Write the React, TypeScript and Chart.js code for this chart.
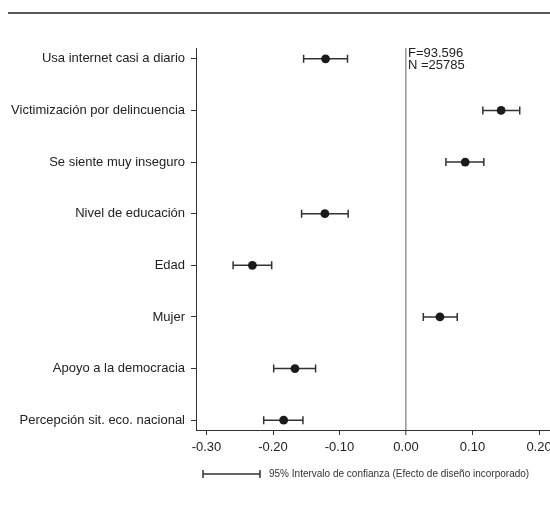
import React, { useEffect, useRef } from "react";
import { Chart, registerables } from "chart.js";

Chart.register(...registerables);

const labels = [
  "Usa internet casi a diario",
  "Victimización por delincuencia",
  "Se siente muy inseguro",
  "Nivel de educación",
  "Edad",
  "Mujer",
  "Apoyo a la democracia",
  "Percepción sit. eco. nacional",
];
const estimates = [-0.121, 0.143, 0.089, -0.122, -0.231, 0.051, -0.167, -0.184];
const lower = [-0.154, 0.1155, 0.06, -0.157, -0.26, 0.026, -0.199, -0.214];
const upper = [-0.088, 0.171, 0.117, -0.087, -0.202, 0.077, -0.136, -0.155];
const xTicks = [-0.3, -0.2, -0.1, 0, 0.1, 0.2];
const statLines = ["F=93.596", "N =25785"];
const legendText = "95% Intervalo de confianza (Efecto de diseño incorporado)";

const FONT = "'Liberation Sans', Arial, Helvetica, sans-serif";

const decorPlugin = {
  id: "decor",
  beforeDatasetsDraw(chart: any) {
    const { ctx, scales } = chart;
    const xs = scales.x;
    const ys = scales.y;
    ctx.save();
    ctx.strokeStyle = "#333";
    ctx.lineWidth = 1.5;
    for (let i = 0; i < estimates.length; i++) {
      const y = ys.getPixelForValue(i);
      const x1 = xs.getPixelForValue(lower[i]);
      const x2 = xs.getPixelForValue(upper[i]);
      ctx.beginPath();
      ctx.moveTo(x1, y);
      ctx.lineTo(x2, y);
      ctx.moveTo(x1, y - 4);
      ctx.lineTo(x1, y + 4);
      ctx.moveTo(x2, y - 4);
      ctx.lineTo(x2, y + 4);
      ctx.stroke();
    }
    ctx.restore();
  },
  afterDraw(chart: any) {
    const { ctx, scales, chartArea, width } = chart;
    const xs = scales.x;
    ctx.save();
    ctx.strokeStyle = "#222";
    ctx.lineWidth = 1.6;
    ctx.beginPath();
    ctx.moveTo(0, 5);
    ctx.lineTo(width, 5);
    ctx.stroke();
    const x0 = xs.getPixelForValue(0);
    ctx.fillStyle = "#222";
    ctx.font = `13px ${FONT}`;
    ctx.textAlign = "left";
    ctx.textBaseline = "alphabetic";
    statLines.forEach((t, i) => ctx.fillText(t, x0 + 2, chartArea.top + 9 + i * 12));
    const ly = chartArea.bottom + 44;
    const lx1 = chartArea.left + 7;
    const lx2 = lx1 + 57;
    ctx.strokeStyle = "#333";
    ctx.lineWidth = 1.5;
    ctx.beginPath();
    ctx.moveTo(lx1, ly);
    ctx.lineTo(lx2, ly);
    ctx.moveTo(lx1, ly - 4);
    ctx.lineTo(lx1, ly + 4);
    ctx.moveTo(lx2, ly - 4);
    ctx.lineTo(lx2, ly + 4);
    ctx.stroke();
    ctx.font = `10px ${FONT}`;
    ctx.fillStyle = "#333";
    ctx.textBaseline = "middle";
    ctx.fillText(legendText, lx2 + 9, ly);
    ctx.restore();
  },
};

export default function App() {
  const ref = useRef<HTMLCanvasElement>(null);
  useEffect(() => {
    const chart = new Chart(ref.current!, {
      type: "scatter",
      data: {
        datasets: [
          {
            data: estimates.map((v, i) => ({ x: v, y: i })),
            backgroundColor: "#1a1a1a",
            borderColor: "#1a1a1a",
            pointRadius: 4.4,
            pointBorderWidth: 0,
          },
        ],
      },
      options: {
        responsive: false,
        animation: false,
        events: [],
        layout: { padding: { top: 40, right: 58, bottom: 38, left: 0 } },
        plugins: { legend: { display: false }, tooltip: { enabled: false } },
        scales: {
          x: {
            type: "linear",
            min: -0.3158,
            max: 0.2165,
            afterBuildTicks: (s: any) => {
              s.ticks = xTicks.map((v) => ({ value: v }));
            },
            afterFit: (s: any) => {
              s.height = 30;
              s.paddingRight = 0;
              s.paddingLeft = 0;
            },
            ticks: {
              callback: (v: any) => Number(v).toFixed(2),
              font: { size: 13, family: FONT },
              color: "#222",
              padding: 5,
              maxRotation: 0,
            },
            grid: {
              drawOnChartArea: true,
              color: (c: any) => (c.tick && c.tick.value === 0 ? "#9a9a9a" : "rgba(0,0,0,0)"),
              lineWidth: (c: any) => (c.tick && c.tick.value === 0 ? 1.6 : 1),
              tickColor: "#333",
              tickLength: 5,
              tickWidth: 1,
            },
            border: { display: true, color: "#333", width: 1 },
          },
          y: {
            type: "linear",
            reverse: true,
            min: -0.21,
            max: 7.19,
            afterBuildTicks: (s: any) => {
              s.ticks = labels.map((_, i) => ({ value: i }));
            },
            afterFit: (s: any) => {
              s.width = 188;
              s.paddingTop = 0;
              s.paddingBottom = 0;
            },
            ticks: {
              callback: (v: any) => labels[v] ?? "",
              font: { size: 13, family: FONT },
              color: "#222",
              padding: 6,
            },
            grid: {
              drawOnChartArea: false,
              tickColor: "#333",
              tickLength: 5,
              tickWidth: 1,
            },
            border: { display: true, color: "#333", width: 1 },
          },
        },
      },
      plugins: [decorPlugin],
    } as any);
    return () => chart.destroy();
  }, []);
  return (
    <div
      style={{
        position: "absolute",
        left: 8,
        top: 8,
        width: 542,
        maxWidth: "none",
        height: 490,
        overflow: "hidden",
      }}
    >
      <canvas ref={ref} width={600} height={490} style={{ display: "block", maxWidth: "none" }} />
    </div>
  );
}
